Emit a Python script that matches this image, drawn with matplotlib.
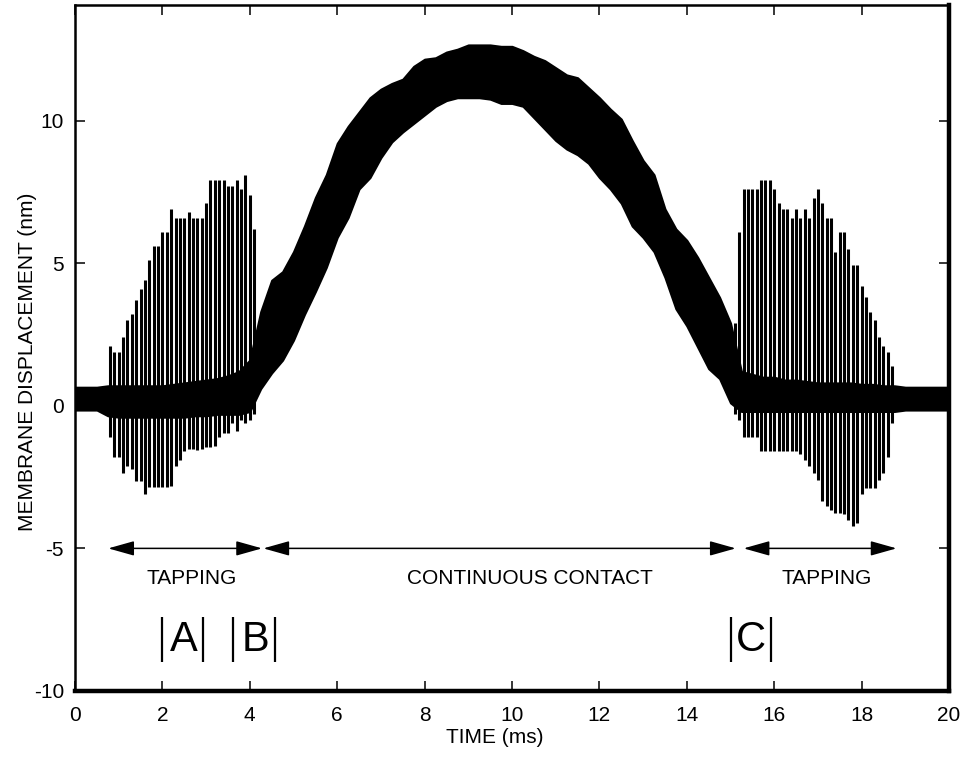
import numpy as np
import matplotlib
matplotlib.use('Agg')
import matplotlib.pyplot as plt

plt.rcParams['font.family'] = ['Liberation Sans', 'DejaVu Sans']
plt.rcParams['axes.unicode_minus'] = False

# dense core band of the signal, sampled every 0.25 ms (nm)
band_t = np.arange(0, 20.001, 0.25)
band_hi = [0.65, 0.65, 0.65, 0.7, 0.7, 0.7, 0.7, 0.7, 0.7, 0.75,
           0.8, 0.85, 0.9, 0.95, 1.05, 1.2, 1.6, 3.3, 4.4, 4.7,
           5.4, 6.3, 7.3, 8.1, 9.2, 9.8, 10.3, 10.8, 11.1, 11.3,
           11.45, 11.9, 12.15, 12.2, 12.4, 12.5, 12.65, 12.65, 12.65, 12.6,
           12.6, 12.45, 12.25, 12.1, 11.85, 11.6, 11.5, 11.15, 10.8, 10.4,
           10.05, 9.3, 8.6, 8.1, 6.9, 6.2, 5.8, 5.2, 4.5, 3.8,
           2.9, 1.2, 1.1, 1.0, 1.0, 0.9, 0.9, 0.85, 0.8, 0.8,
           0.8, 0.8, 0.75, 0.75, 0.7, 0.7, 0.65, 0.65, 0.65, 0.65, 0.65]
band_lo = [-0.15, -0.15, -0.15, -0.35, -0.4, -0.4, -0.4, -0.4, -0.4, -0.4,
           -0.4, -0.35, -0.35, -0.3, -0.3, -0.3, -0.2, 0.6, 1.15, 1.6,
           2.3, 3.2, 4.0, 4.85, 5.9, 6.6, 7.6, 8.0, 8.7, 9.25,
           9.6, 9.9, 10.2, 10.5, 10.7, 10.8, 10.8, 10.8, 10.75, 10.6,
           10.6, 10.5, 10.1, 9.7, 9.3, 9.0, 8.8, 8.5, 8.0, 7.6,
           7.1, 6.3, 5.9, 5.4, 4.5, 3.4, 2.8, 2.05, 1.3, 0.95,
           0.1, -0.2, -0.2, -0.2, -0.2, -0.2, -0.2, -0.2, -0.2, -0.2,
           -0.2, -0.2, -0.2, -0.2, -0.2, -0.2, -0.15, -0.15, -0.15, -0.15, -0.15]

# tapping spikes, one every 0.1 ms
left_t = np.round(np.arange(0.8, 4.15, 0.1), 2)
left_hi = [2.1, 1.9, 1.9, 2.4, 3.0, 3.2, 3.7, 4.1, 4.4, 5.1,
           5.6, 5.6, 6.1, 6.1, 6.9, 6.6, 6.6, 6.6, 6.8, 6.6,
           6.6, 6.6, 7.1, 7.9, 7.9, 7.9, 7.9, 7.7, 7.7, 7.9,
           7.6, 8.1, 7.4, 6.2]
left_lo = [-1.1, -1.8, -1.8, -2.35, -2.1, -2.2, -2.65, -2.65, -3.1, -2.85,
           -2.85, -2.85, -2.85, -2.85, -2.8, -2.1, -1.9, -1.6, -1.5, -1.5,
           -1.55, -1.5, -1.45, -1.45, -1.4, -1.1, -0.95, -0.95, -0.6, -0.9,
           -0.5, -0.6, -0.5, -0.3]

right_t = np.round(np.arange(15.1, 18.75, 0.1), 2)
right_hi = [2.9, 6.1, 7.6, 7.6, 7.6, 7.6, 7.9, 7.9, 7.9, 7.6,
            7.1, 6.9, 6.9, 6.6, 6.9, 6.6, 6.9, 6.6, 7.3, 7.6,
            7.1, 6.6, 6.6, 5.4, 6.1, 6.1, 5.5, 4.95, 4.95, 4.2,
            3.8, 3.3, 3.0, 2.4, 2.1, 1.9, 1.4]
right_lo = [-0.3, -0.5, -1.1, -1.1, -1.1, -1.1, -1.6, -1.6, -1.6, -1.6,
            -1.6, -1.6, -1.6, -1.6, -1.6, -1.7, -1.9, -2.1, -2.35, -2.6,
            -3.35, -3.5, -3.65, -3.75, -3.75, -3.8, -4.0, -4.2, -4.1, -3.1,
            -2.9, -2.9, -2.9, -2.6, -2.35, -1.8, -0.6]

# regions and markers
regions = [(0.76, 4.28, 'TAPPING', 2.67),
           (4.31, 15.12, 'CONTINUOUS CONTACT', 10.4),
           (15.3, 18.8, 'TAPPING', 17.21)]
marks = [('A', 1.99, 2.94, 2.5), ('B', 3.61, 4.58, 4.12), ('C', 15.0, 15.92, 15.46)]

fig = plt.figure(figsize=(9.64, 7.67), dpi=100)
ax = fig.add_axes([75 / 964, 1 - 691 / 767, 874 / 964, 686 / 767])

ax.fill_between(band_t, band_lo, band_hi, color='k', lw=1.5, edgecolor='k')
ax.vlines(left_t, left_lo, left_hi, color='k', lw=2.2)
ax.vlines(right_t, right_lo, right_hi, color='k', lw=2.2)

for x0, x1, label, xc in regions:
    ax.annotate('', xy=(x1, -5), xytext=(x0, -5),
                arrowprops=dict(arrowstyle='<|-|>,head_length=1.6,head_width=0.45',
                                mutation_scale=10, color='k', lw=1.1,
                                shrinkA=0, shrinkB=0))
    ax.text(xc, -6.05, label, ha='center', va='center', fontsize=15)

for letter, xa, xb, xc in marks:
    ax.vlines([xa, xb], -8.97, -7.39, color='k', lw=1.6)
    ax.text(xc, -8.2, letter, ha='center', va='center', fontsize=30)

ax.set_xlim(0, 20)
ax.set_ylim(-10, 14.05)
ax.set_xticks(np.arange(0, 21, 2))
ax.set_yticks([-10, -5, 0, 5, 10])

for s in ['left', 'top']:
    ax.spines[s].set_linewidth(1.8)
for s in ['bottom', 'right']:
    ax.spines[s].set_linewidth(3.2)

ax.tick_params(direction='in', length=7, width=1.1, top=True, right=True, labelsize=15)
ax.tick_params(axis='x', pad=11)
ax.tick_params(axis='y', pad=8)

ax.set_xlabel('TIME (ms)', fontsize=15)
ax.xaxis.set_label_coords(0.4805, -0.054)
ax.set_ylabel('MEMBRANE DISPLACEMENT (nm)', fontsize=15)
ax.yaxis.set_label_coords(-0.043, 0.48)

fig.savefig('out.png', dpi=100)
